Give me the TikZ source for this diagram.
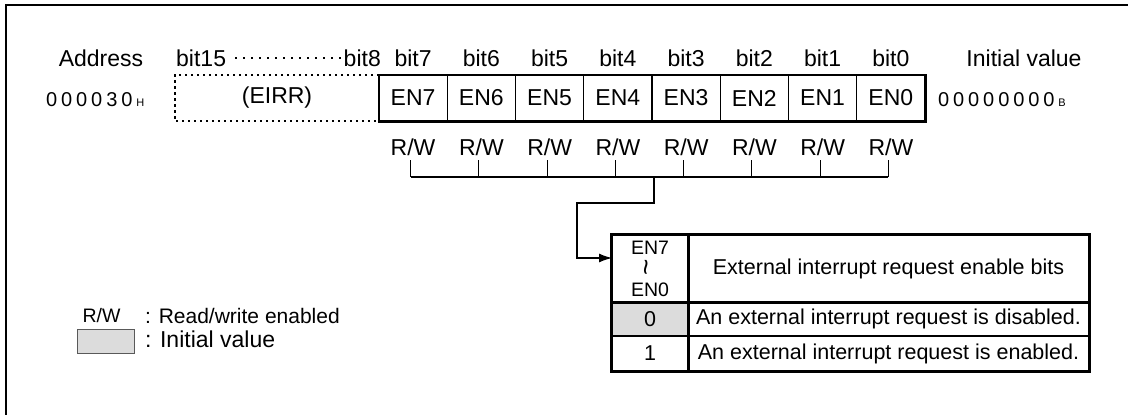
\documentclass[tikz,border=0pt]{standalone}
\usepackage{fontspec}
\setmainfont{Liberation Sans}
\usetikzlibrary{arrows.meta, positioning}
\definecolor{initgray}{RGB}{220,220,220}
\newcommand{\dg}{\kern3.9pt}

\begin{document}
\begin{tikzpicture}[
  x=1pt,y=-1pt,
  lbl/.style={font=\fontsize{23}{26}\selectfont, inner sep=0pt},
  digits/.style={font=\fontsize{20}{24}\selectfont, inner sep=0pt, anchor=west},
  cell/.style={draw, line width=1.2pt, minimum width=68.25pt, minimum height=46pt, inner sep=0pt, font=\fontsize{23}{26}\selectfont},
  tcell/.style={draw, line width=1.2pt, inner sep=0pt, font=\fontsize{21.5}{24}\selectfont},
  wire/.style={line width=1.2pt},
  arr/.style={wire, -{Latex[length=13pt, width=9pt]}},
  dots/.style={line width=2.2pt, dash pattern=on 2.2pt off 3.8pt}
]
\useasboundingbox (0,0) rectangle (1128,415);

% frame, cut off at right and bottom
\draw[line width=2.5pt] (6,415) -- (6,5) -- (1128,5);

% heading row
\node[lbl, anchor=base] (addr) at (101,66) {Address};
\node[lbl, anchor=base west] (b15) at (176,66) {bit15};
\node[lbl, anchor=base east] (b8) at (381,66) {bit8};
\draw[line width=1.8pt, dash pattern=on 1.8pt off 6.2pt] ([xshift=9pt]b15.east) -- ([xshift=-3pt]b8.west);
\node[lbl, anchor=base] (init) at (1024,66) {Initial value};

% register
\node[digits] (adval) at (46,100) {0\dg0\dg0\dg0\dg3\dg0\dg{\fontsize{11}{12}\selectfont H}};
\node[lbl, minimum width=204pt, minimum height=46pt] (eirr) at (277,98) {(EIRR)};
\draw[dots] (eirr.north east) -- (eirr.north west) -- (eirr.south west) -- (eirr.south east);

\foreach \i [count=\k from 0] in {7,...,0} {
  \node[cell] (en\i) at (413.1+68.25*\k,98) {EN\i};
  \node[lbl, anchor=base] (bit\i) at (413.1+68.25*\k,66) {bit\i};
  \node[lbl, anchor=base] (rw\i) at (413.1+68.25*\k,155) {R/W};
}
\draw[line width=2.2pt] (en7.south west) -- (en0.south east) -- (en0.north east);
\node[digits] (inval) at (938,100) {0\dg0\dg0\dg0\dg0\dg0\dg0\dg0\dg{\fontsize{11}{12}\selectfont B}};

% bracket from the R/W marks
\coordinate (bus) at (0,177);
\foreach \i in {7,...,0}
  \draw[wire] ([xshift=-2.5pt,yshift=-5pt]rw\i.base) -- ([xshift=-2.5pt]rw\i.base |- bus);
\draw[wire] ([xshift=-2.5pt]rw7.base |- bus) -- ([xshift=-2.5pt]rw0.base |- bus);

\coordinate (j1) at (654,177);
\coordinate (j2) at (577,203);
\coordinate (tin) at (612,258);
\draw[arr] (j1) |- (j2) |- (tin);

% bit table
\node[tcell, minimum width=76pt, minimum height=67pt, align=center, font=\fontsize{19.5}{21}\selectfont] (hd1) at (650,268.5) {EN7\\{\fontsize{28}{21}\selectfont\rotatebox{90}{\textasciitilde}}\\EN0};
\node[tcell, minimum width=401pt, minimum height=67pt] (hd2) at (888.5,268.5) {External interrupt request enable bits};
\node[tcell, minimum width=76pt, minimum height=34pt, fill=initgray] (r0a) at (650,319) {0};
\node[tcell, minimum width=401pt, minimum height=34pt] (r0b) at (888.5,319) {An external interrupt request is disabled.};
\node[tcell, minimum width=76pt, minimum height=35pt] (r1a) at (650,353.5) {1};
\node[tcell, minimum width=401pt, minimum height=35pt] (r1b) at (888.5,353.5) {An external interrupt request is enabled.};
\draw[line width=2.5pt] (hd1.north west) rectangle (r1b.south east);
\draw[line width=2.5pt] (hd1.north east) -- (r1a.south east);
\draw[line width=2pt] (hd1.south west) -- (hd2.south east);

% legend
\node[font=\fontsize{19.5}{22}\selectfont, inner sep=0pt] (lgrw) at (101.5,315.5) {R/W};
\node[font=\fontsize{21}{24}\selectfont, anchor=west, inner sep=0pt] (lgrwt) at (145,315.5) {: Read/write enabled};
\node[draw=gray!70!black, line width=1pt, fill=initgray, minimum width=57pt, minimum height=24pt, inner sep=0pt] (lgbox) at (105.5,341) {};
\node[font=\fontsize{23}{26}\selectfont, anchor=west, inner sep=0pt] (lgbt) at (145,339) {: Initial value};

\end{tikzpicture}
\end{document}
